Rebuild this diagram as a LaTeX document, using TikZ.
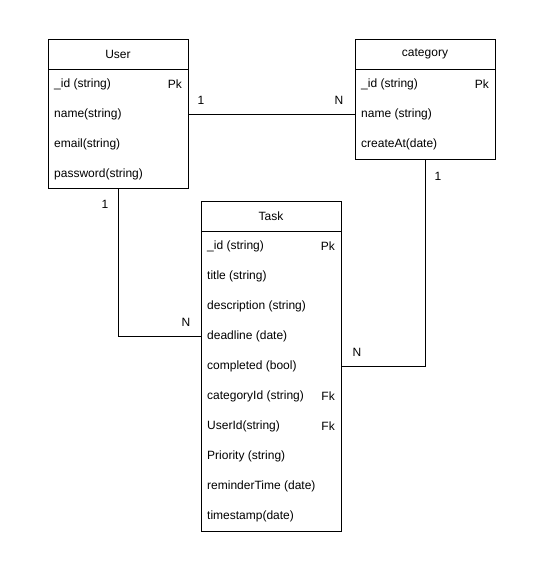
\documentclass[tikz,border=0pt]{standalone}
\usepackage{fontspec}
\setmainfont{Liberation Sans}
\begin{document}
\begin{tikzpicture}[x=1pt,y=1pt,
  box/.style={draw, line width=0.9pt, minimum width=140pt, inner sep=0pt, anchor=north west},
  fld/.style={anchor=west, inner sep=0pt, font=\fontsize{12}{14}\selectfont},
  key/.style={anchor=east, inner sep=0pt, font=\fontsize{12}{14}\selectfont},
  ttl/.style={inner sep=0pt, font=\fontsize{12}{14}\selectfont},
  card/.style={inner sep=0pt, font=\fontsize{12}{14}\selectfont},
  conn/.style={draw, line width=0.9pt}]
\useasboundingbox (0,0) rectangle (559,-568);
\fill[white] (0,0) rectangle (559,-568);
% User
\node[box, minimum height=149pt] (user) at (48,-39) {};
\node[ttl] (userT) at (118,-54) {User};
\draw[line width=0.9pt] (user.west |- 0,-69) -- (user.east |- 0,-69);
\node[fld] (u1) at (54,-84) {\_id (string)};
\node[key] (u1k) at (182,-84) {Pk};
\node[fld] (u2) at (54,-114) {name(string)};
\node[fld] (u3) at (54,-144) {email(string)};
\node[fld] (u4) at (54,-174) {password(string)};
% category
\node[box, minimum height=120pt] (cat) at (355,-39) {};
\node[ttl] (catT) at (425,-54) {category};
\draw[line width=0.9pt] (cat.west |- 0,-69) -- (cat.east |- 0,-69);
\node[fld] (c1) at (361,-84) {\_id (string)};
\node[key] (c1k) at (489,-84) {Pk};
\node[fld] (c2) at (361,-114) {name (string)};
\node[fld] (c3) at (361,-144) {createAt(date)};
% Task
\node[box, minimum height=330pt] (task) at (201,-201) {};
\node[ttl] (taskT) at (271,-216) {Task};
\draw[line width=0.9pt] (task.west |- 0,-231) -- (task.east |- 0,-231);
\node[fld] (t1) at (207,-246) {\_id (string)};
\node[key] (t1k) at (335,-246) {Pk};
\node[fld] (t2) at (207,-276) {title (string)};
\node[fld] (t3) at (207,-306) {description (string)};
\node[fld] (t4) at (207,-336) {deadline (date)};
\node[fld] (t5) at (207,-366) {completed (bool)};
\node[fld] (t6) at (207,-396) {categoryId (string)};
\node[key] (t6k) at (335,-396) {Fk};
\node[fld] (t7) at (207,-426) {UserId(string)};
\node[key] (t7k) at (335,-426) {Fk};
\node[fld] (t8) at (207,-456) {Priority (string)};
\node[fld] (t9) at (207,-486) {reminderTime (date)};
\node[fld] (t10) at (207,-516) {timestamp(date)};
% connectors
\draw[conn] (user.east |- u2) -- (cat.west |- c2);
\draw[conn] (user.south) |- (task.west |- t4);
\draw[conn] (cat.south) |- (task.east |- t5);
% cardinalities
\node[card] (l1) at (201,-100) {1};
\node[card] (l2) at (339,-100) {N};
\node[card] (l3) at (105,-204) {1};
\node[card] (l4) at (186,-322) {N};
\node[card] (l5) at (438,-176) {1};
\node[card] (l6) at (357,-352) {N};
\end{tikzpicture}
\end{document}
